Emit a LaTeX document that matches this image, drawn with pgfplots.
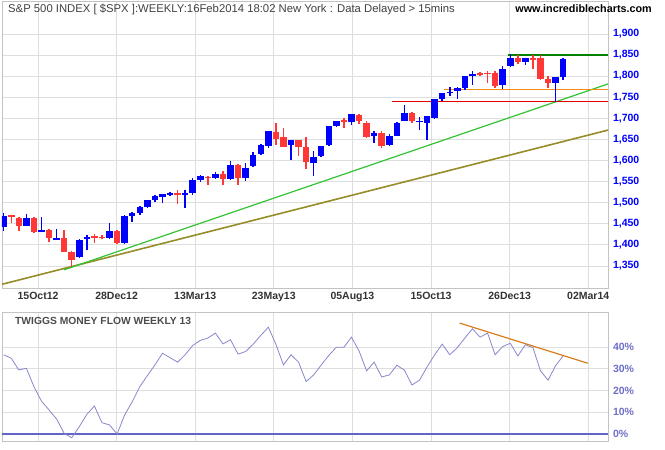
\documentclass[border=0pt]{standalone}
\usepackage{fontspec}
\setmainfont{Liberation Sans}
\usepackage{pgfplots}
\usepackage{pgfplotstable}
\pgfplotsset{compat=1.18}
\definecolor{cblue}{RGB}{0,0,255}
\definecolor{cred}{RGB}{255,55,55}
\definecolor{gridc}{RGB}{222,222,222}
\definecolor{framec}{RGB}{195,195,195}
\definecolor{tlgreen}{RGB}{50,195,50}
\definecolor{tlolive}{RGB}{150,140,40}
\definecolor{hgreen}{RGB}{0,130,0}
\definecolor{horange}{RGB}{245,140,20}
\definecolor{hred}{RGB}{230,0,0}
\definecolor{tmfc}{RGB}{135,135,205}
\definecolor{zeroc}{RGB}{100,100,200}
\definecolor{tmftrend}{RGB}{215,125,30}
\definecolor{pctc}{RGB}{110,110,200}

% weekly candles, index i = week (0 = week of 10 Sep 2012)
\pgfplotstableread{
i o h l c
0 1442 1476 1434 1468
3 1445 1474 1444 1463
5 1433 1466 1430 1435
7 1414 1437 1411 1416
10 1372 1413 1370 1411
11 1413 1423 1389 1418
14 1417 1451 1415 1433
16 1404 1470 1402 1468
17 1469 1477 1455 1475
18 1475 1491 1470 1490
19 1490 1507 1488 1506
20 1506 1518 1501 1516
21 1514 1520 1499 1520
22 1520 1525 1515 1522
24 1520 1530 1488 1522
25 1522 1558 1518 1553
26 1553 1565 1548 1563
28 1558 1572 1555 1569
30 1556 1599 1553 1590
32 1558 1595 1552 1583
33 1586 1620 1584 1614
34 1615 1638 1613 1636
35 1634 1670 1630 1669
38 1636 1648 1601 1648
41 1594 1623 1563 1609
42 1610 1634 1608 1634
43 1637 1682 1635 1682
44 1682 1694 1680 1694
46 1691 1710 1685 1709
49 1659 1669 1642 1664
51 1636 1662 1634 1658
52 1659 1691 1657 1690
53 1694 1731 1693 1713
55 1692 1702 1672 1694
56 1690 1705 1648 1705
57 1700 1746 1698 1746
58 1745 1761 1742 1761
59 1761 1773 1753 1763
60 1765 1774 1746 1771
61 1772 1800 1768 1800
62 1802 1813 1779 1805
66 1779 1825 1769 1818
67 1824 1852 1822 1844
69 1834 1844 1826 1842
73 1784 1798 1739 1797
74 1797 1842 1791 1840
}\upcandles

\pgfplotstableread{
i o h l c
1 1470 1471 1452 1465
2 1464 1465 1434 1445
4 1463 1465 1428 1431
6 1435 1437 1408 1416
8 1416 1435 1383 1384
9 1384 1386 1347 1365
12 1420 1425 1404 1418
13 1419 1423 1414 1416
15 1433 1435 1402 1405
23 1523 1530 1497 1518
27 1562 1564 1543 1560
29 1569 1576 1543 1556
31 1590 1592 1541 1558
36 1668 1690 1637 1650
37 1655 1677 1633 1633
39 1648 1649 1610 1632
40 1632 1656 1580 1596
45 1695 1701 1678 1694
47 1709 1710 1687 1694
48 1688 1693 1653 1655
50 1664 1670 1629 1634
54 1713 1716 1690 1694
63 1806 1810 1800 1805
64 1808 1811 1783 1806
65 1808 1811 1772 1777
68 1842 1849 1829 1834
70 1843 1849 1818 1840
71 1842 1850 1790 1792
72 1792 1800 1772 1784
}\downcandles

\pgfplotstableread{
i v
0 36.5
1 34.9
2 29.5
3 30.3
4 21.8
5 15.1
6 11.1
7 6.9
8 0.3
9 -1.7
10 3.4
11 9.1
12 12.9
13 5.2
14 4.2
15 0.0
16 8.8
17 14.9
18 21.8
19 26.9
20 31.8
21 37.2
22 35.2
23 33.1
24 36.5
25 40.8
26 43.1
27 44.2
28 46.5
29 41.5
30 43.4
31 36.8
32 38.0
33 41.4
34 45.4
35 49.2
36 41.4
37 31.8
38 36.5
39 33.1
40 24.2
41 27.2
42 31.8
43 36.2
44 40.0
45 40.0
46 44.6
47 38.3
48 29.1
49 33.1
50 26.3
51 27.2
52 31.7
53 29.4
54 22.6
55 24.8
56 30.9
57 36.5
58 41.4
59 36.5
60 39.8
61 44.2
62 48.5
63 44.6
64 46.5
65 36.5
66 40.3
67 41.8
68 36.0
69 41.1
70 39.8
71 29.1
72 24.8
73 31.5
74 36.0
}\tmf

\pgfplotsset{
  panel/.style={
    scale only axis, anchor=south west, width=606pt,
    xmin=-0.225, xmax=79.93,
    axis line style={framec, line width=0.8pt},
    xtick={4.54,14.93,25.33,35.72,46.12,56.52,66.92,77.31},
    major tick length=0pt,
    grid=major, major grid style={gridc, line width=0.8pt},
    yticklabel pos=right,
    /pgf/number format/assume math mode=true,
    tick label style={font=\bfseries\fontsize{10.5}{12}\selectfont},
  },
}

\begin{document}
\begin{tikzpicture}[x=1pt,y=1pt]
\path[use as bounding box] (0,0) rectangle (665,450);

% ---------- price panel ----------
\begin{axis}[panel, at={(2pt,162pt)}, height=287pt,
  ymin=1297.8, ymax=1978,
  ytick={1350,1400,...,1900},
  xticklabels={15Oct12,28Dec12,13Mar13,23May13,05Aug13,15Oct13,26Dec13,02Mar14},
  xticklabel style={text=black!80, yshift=-1pt},
  yticklabel style={text=cblue, xshift=1.5pt, /pgf/number format/1000 sep={,}},
]
% trend lines
\addplot[tlolive, line width=1.6pt] coordinates {(-0.225,1306.6) (79.93,1672)};
\addplot[tlgreen, line width=1.2pt] coordinates {(7.98,1340.8) (79.93,1781.4)};
\addplot[hred, line width=1.2pt] coordinates {(51.3,1740) (79.93,1740)};
\addplot[horange, line width=1.2pt] coordinates {(58.3,1768.7) (79.93,1768.7)};
\addplot[hgreen, line width=1.2pt] coordinates {(66.7,1850) (79.93,1850)};
% candles: wicks
\addplot[cblue, draw=none, mark=none, forget plot,
  error bars/.cd, y dir=both, y explicit, error mark=none,
  error bar style={draw=cblue, solid, line width=1.5pt}]
  table[x=i, y expr={(\thisrow{h}+\thisrow{l})/2}, y error expr={(\thisrow{h}-\thisrow{l})/2}] {\upcandles};
\addplot[cred, draw=none, mark=none, forget plot,
  error bars/.cd, y dir=both, y explicit, error mark=none,
  error bar style={draw=cred, solid, line width=1.5pt}]
  table[x=i, y expr={(\thisrow{h}+\thisrow{l})/2}, y error expr={(\thisrow{h}-\thisrow{l})/2}] {\downcandles};
% candles: bodies
\addplot[cblue, draw=none, mark=none, forget plot,
  error bars/.cd, y dir=both, y explicit, error mark=none,
  error bar style={draw=cblue, solid, line width=6.5pt}]
  table[x=i, y expr={(\thisrow{o}+\thisrow{c})/2}, y error expr={max(abs(\thisrow{c}-\thisrow{o})/2,0.8)}] {\upcandles};
\addplot[cred, draw=none, mark=none, forget plot,
  error bars/.cd, y dir=both, y explicit, error mark=none,
  error bar style={draw=cred, solid, line width=6.5pt}]
  table[x=i, y expr={(\thisrow{o}+\thisrow{c})/2}, y error expr={max(abs(\thisrow{c}-\thisrow{o})/2,0.8)}] {\downcandles};
\end{axis}

% ---------- money flow panel ----------
\begin{axis}[panel, at={(2pt,9pt)}, height=129pt,
  ymin=-3.2, ymax=56.2,
  ytick={0,10,20,30,40},
  xticklabels={},
  yticklabel={\pgfmathprintnumber{\tick}\%},
  yticklabel style={text=pctc, xshift=1.5pt},
]
\addplot[zeroc, line width=1.2pt] coordinates {(-0.225,0) (79.93,0)};
\addplot[tmfc, line width=0.8pt] table[x=i, y=v] {\tmf};
\addplot[tmftrend, line width=1.2pt] coordinates {(60.3,51.1) (77.25,32.6)};
\end{axis}

% ---------- titles ----------
\node[anchor=west, inner sep=0pt, text=black!75, font=\fontsize{11.3}{13}\selectfont]
  at (8,441) {S\&P 500 INDEX [ \$SPX ]:WEEKLY:16Feb2014 18:02 New York : Data Delayed > 15mins};
\node[anchor=east, inner sep=0pt, text=black, font=\bfseries\fontsize{10.8}{12}\selectfont]
  at (652,441) {www.incrediblecharts.com};
\node[anchor=west, inner sep=0pt, text=black!70, font=\bfseries\fontsize{10.3}{12}\selectfont]
  at (15,129) {TWIGGS MONEY FLOW WEEKLY 13};
\end{tikzpicture}
\end{document}
